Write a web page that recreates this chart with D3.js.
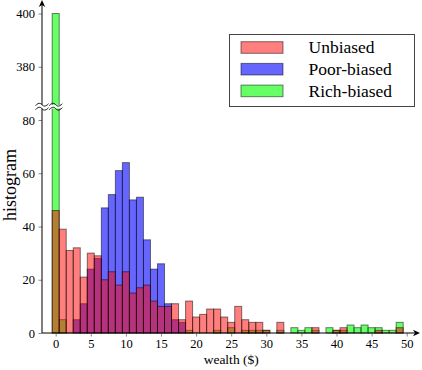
<!DOCTYPE html>
<html>
<head>
<meta charset="utf-8">
<script src="https://cdn.jsdelivr.net/npm/d3@7/dist/d3.min.js"></script>
<style>
	html, body { margin: 0; padding: 0; background: #fff; }
	svg { display: block; }
	svg text { font-family: 'Liberation Serif', 'Times New Roman', serif; fill: #000; }
	.bar { stroke: #000; stroke-opacity: 0.5; stroke-width: 1; }
	.tick line { stroke: #888; }
</style>
</head>
<body>
<svg id="chart"></svg>
<script>
/* global d3 */

// Histogram counts, one value per $1 wealth bin (bin index = wealth).
const unbiased = [
	46, 39, 31, 32, 21, 30, 29, 20, 23, 18,
	23, 15, 17, 18, 12, 10, 10, 11, 5, 12,
	6, 7, 9, 9, 6, 4, 10, 5, 4, 4,
	1, 0, 4, 0, 0, 0, 0, 2, 0, 0,
	1, 2, 0, 0, 0, 0, 1, 0, 0, 2,
];
const poorBiased = [
	0, 0, 0, 5, 11, 24, 28, 47, 52, 61,
	64, 50, 51, 35, 24, 26, 11, 5, 4, 0,
	0, 0, 0, 0, 0, 0, 0, 0, 0, 0,
	0, 0, 0, 0, 0, 0, 0, 0, 0, 0,
	0, 0, 0, 0, 0, 0, 0, 0, 0, 0,
];
const richBiased = [
	400, 5, 0, 0, 0, 0, 0, 0, 0, 0,
	0, 0, 0, 0, 0, 0, 0, 0, 0, 1,
	0, 0, 0, 1, 0, 2, 0, 1, 1, 1,
	1, 0, 1, 0, 2, 1, 2, 1, 0, 2,
	1, 1, 3, 2, 3, 2, 2, 1, 1, 4,
];

const seriesNames = [ 'Unbiased', 'Poor-biased', 'Rich-biased' ];
const xTicks = [ 0, 5, 10, 15, 20, 25, 30, 35, 40, 45, 50 ];
const yTicks = [ 0, 20, 40, 60, 80, 380, 400 ];

/**
 * Overlaid histograms with a broken y axis
 */
class WealthHistogram {
	constructor( selector, config ) {
		this.selector = selector;
		this.config = config;

		this.initializeChart();
	}

	initializeChart() {
		this.createSVG();
		this.setupScales();
		this.renderBars();
		this.renderAxes();
		this.renderBreak();
		this.renderLabels();
		this.renderLegend();
	}

	createSVG() {
		const { width, height } = this.config;

		this.svg = d3
			.select( this.selector )
			.attr( 'width', width )
			.attr( 'height', height );
	}

	setupScales() {
		const { plot } = this.config;

		this.xScale = d3
			.scaleLinear()
			.domain( [ 0, 50 ] )
			.range( [ plot.x0, plot.x50 ] );

		// piecewise scale: 0..85 below the break, 365..405 above it
		this.yScale = d3
			.scaleLinear()
			.domain( [ 0, 85, 365, 405 ] )
			.range( [ plot.bottom, plot.breakY, plot.breakY, plot.top ] );
	}

	renderBars() {
		const layers = [
			{ data: poorBiased, fill: 'rgb(0,0,255)', opacity: 0.6 },
			{ data: richBiased, fill: 'rgb(0,255,0)', opacity: 0.6 },
			{ data: unbiased, fill: 'rgb(255,0,0)', opacity: 0.5 },
		];

		layers.forEach( ( layer ) => {
			const bins = layer.data
				.map( ( value, i ) => ( { bin: i, value } ) )
				.filter( ( d ) => d.value > 0 );

			this.svg
				.append( 'g' )
				.selectAll( 'rect' )
				.data( bins )
				.join( 'rect' )
				.attr( 'class', 'bar' )
				.attr( 'x', ( d ) => this.xScale( d.bin - 0.5 ) )
				.attr( 'width', ( d ) => this.xScale( d.bin + 0.5 ) - this.xScale( d.bin - 0.5 ) )
				.attr( 'y', ( d ) => this.yScale( d.value ) )
				.attr( 'height', ( d ) => this.yScale( 0 ) - this.yScale( d.value ) )
				.attr( 'fill', layer.fill )
				.attr( 'fill-opacity', layer.opacity );
		} );

		this.layers = layers;
	}

	renderAxes() {
		const { plot } = this.config;
		const y0 = this.yScale( 0 );

		const xAxis = d3
			.axisBottom( this.xScale )
			.tickValues( xTicks )
			.tickSize( 3.5 )
			.tickPadding( 3 );

		this.svg
			.append( 'g' )
			.attr( 'transform', `translate(0,${ y0 })` )
			.call( xAxis )
			.attr( 'font-family', null )
			.attr( 'font-size', 12.5 )
			.call( ( g ) => g.select( '.domain' ).remove() );

		const yAxis = d3
			.axisLeft( this.yScale )
			.tickValues( yTicks )
			.tickSize( 3.5 )
			.tickPadding( 3.5 );

		this.svg
			.append( 'g' )
			.attr( 'transform', `translate(${ plot.axisX },0)` )
			.call( yAxis )
			.attr( 'font-family', null )
			.attr( 'font-size', 12.5 )
			.call( ( g ) => g.select( '.domain' ).remove() );

		// axis lines with arrow heads
		this.svg
			.append( 'line' )
			.attr( 'x1', plot.axisX )
			.attr( 'x2', plot.arrowX - 5 )
			.attr( 'y1', y0 )
			.attr( 'y2', y0 )
			.attr( 'stroke', '#000' );

		this.svg
			.append( 'line' )
			.attr( 'x1', plot.axisX )
			.attr( 'x2', plot.axisX )
			.attr( 'y1', y0 )
			.attr( 'y2', 5 )
			.attr( 'stroke', '#000' );

		this.svg
			.append( 'path' )
			.attr( 'd', `M${ plot.arrowX },${ y0 }L${ plot.arrowX - 7 },${ y0 - 3.2 }L${ plot.arrowX - 5 },${ y0 }L${ plot.arrowX - 7 },${ y0 + 3.2 }Z` )
			.attr( 'fill', '#000' );

		this.svg
			.append( 'path' )
			.attr( 'd', `M${ plot.axisX },0L${ plot.axisX - 3.2 },7L${ plot.axisX },5L${ plot.axisX + 3.2 },7Z` )
			.attr( 'fill', '#000' );
	}

	renderBreak() {
		const { plot } = this.config;
		const yb = this.yScale( 85 );
		const centres = [ plot.axisX, this.xScale( 0 ) ];

		const tilde = ( cx, cy ) => `M${ cx - 6.5 },${ cy + 1 } C${ cx - 3 },${ cy - 3 } ${ cx - 1 },${ cy - 1 } ${ cx },${ cy } S${ cx + 3 },${ cy + 3 } ${ cx + 6.5 },${ cy - 1 }`;

		centres.forEach( ( cx ) => {
			this.svg
				.append( 'rect' )
				.attr( 'x', cx - 6 )
				.attr( 'y', yb - 1.8 )
				.attr( 'width', 12 )
				.attr( 'height', 3.6 )
				.attr( 'fill', '#fff' );

			[ yb - 2, yb + 2 ].forEach( ( cy ) => {
				this.svg
					.append( 'path' )
					.attr( 'd', tilde( cx, cy ) )
					.attr( 'fill', 'none' )
					.attr( 'stroke', '#000' )
					.attr( 'stroke-width', 0.9 );
			} );
		} );
	}

	renderLabels() {
		const { plot } = this.config;

		this.svg
			.append( 'text' )
			.attr( 'transform', `translate(${ plot.yLabelX },${ plot.yLabelY }) rotate(-90)` )
			.attr( 'text-anchor', 'middle' )
			.style( 'font-size', '18px' )
			.text( 'histogram' );

		this.svg
			.append( 'text' )
			.attr( 'x', this.xScale( 25 ) )
			.attr( 'y', plot.xLabelY )
			.attr( 'text-anchor', 'middle' )
			.style( 'font-size', '13.5px' )
			.text( 'wealth ($)' );
	}

	renderLegend() {
		const { legend } = this.config;
		const order = [ 2, 0, 1 ]; // unbiased, poor, rich

		const g = this.svg
			.append( 'g' )
			.attr( 'transform', `translate(${ legend.x },${ legend.y })` );

		g.append( 'rect' )
			.attr( 'width', legend.width )
			.attr( 'height', legend.height )
			.attr( 'fill', '#fff' )
			.attr( 'stroke', '#444' );

		const rows = g
			.selectAll( '.legend-row' )
			.data( seriesNames )
			.join( 'g' )
			.attr( 'class', 'legend-row' )
			.attr( 'transform', ( d, i ) => `translate(0,${ legend.firstRow + i * legend.rowStep })` );

		rows.append( 'rect' )
			.attr( 'class', 'bar' )
			.attr( 'x', 11.5 )
			.attr( 'y', -5.8 )
			.attr( 'width', 42 )
			.attr( 'height', 11.6 )
			.attr( 'fill', ( d, i ) => this.layers[ order[ i ] ].fill )
			.attr( 'fill-opacity', ( d, i ) => this.layers[ order[ i ] ].opacity );

		rows.append( 'text' )
			.attr( 'x', 79 )
			.attr( 'y', 5.8 )
			.style( 'font-size', '17.5px' )
			.text( ( d ) => d );
	}
}

new WealthHistogram( '#chart', {
	width: 422,
	height: 370,
	plot: {
		x0: 55.7,
		x50: 406.7,
		bottom: 333,
		breakY: 106.7,
		top: 0.2,
		axisX: 42,
		arrowX: 420,
		yLabelX: 16,
		yLabelY: 185,
		xLabelY: 364,
	},
	legend: {
		x: 229.5,
		y: 34.5,
		width: 185,
		height: 72,
		firstRow: 13,
		rowStep: 21.7,
	},
} );
</script>
</body>
</html>
